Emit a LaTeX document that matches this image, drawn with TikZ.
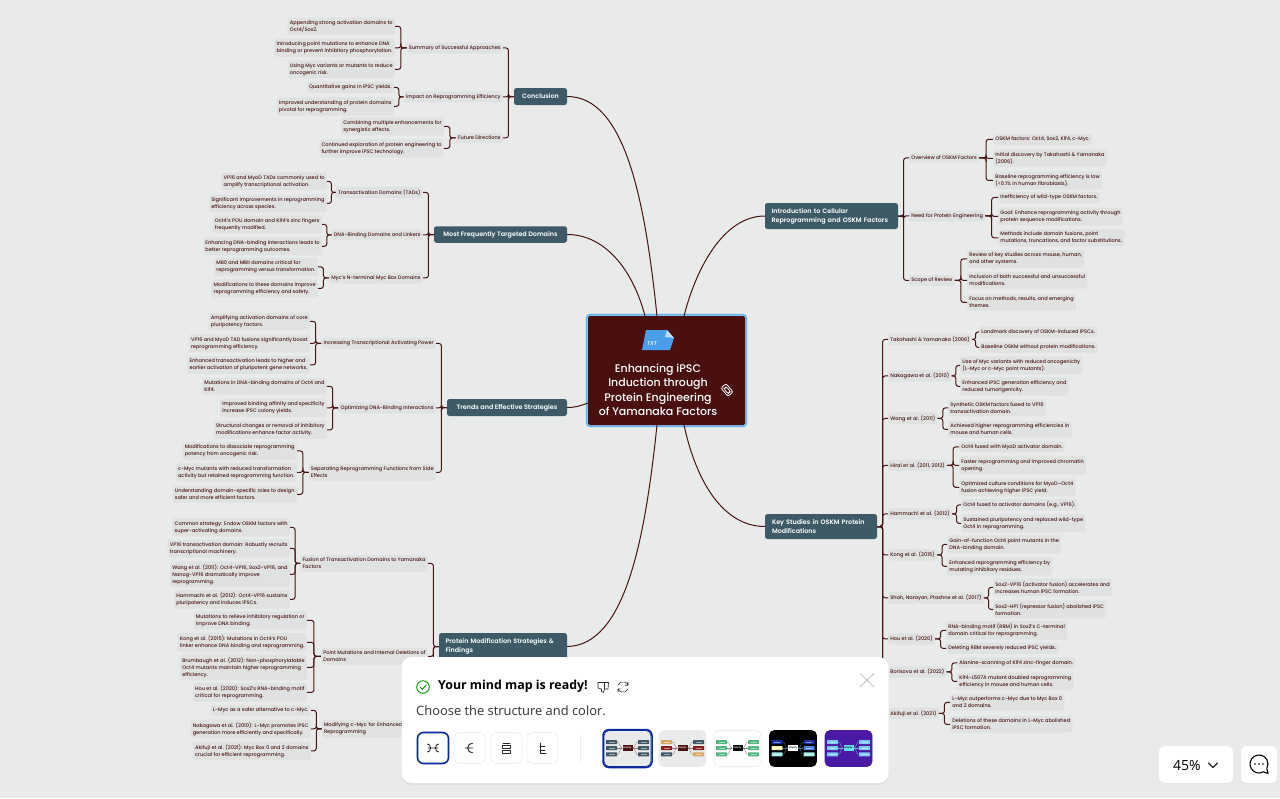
\documentclass[tikz,border=0pt]{standalone}
\usepackage{fontspec}
\setmainfont{Poppins Medium}
\newfontfamily\uifont{Open Sans}
\newfontfamily\topicfont{Poppins SemiBold}
\usetikzlibrary{calc}
\usetikzlibrary{shadows}

\definecolor{pagebg}{HTML}{E9EBEA}
\definecolor{leafgray}{HTML}{E0E2E1}
\definecolor{inkred}{HTML}{471414}
\definecolor{slateteal}{HTML}{3D5A66}
\definecolor{rootred}{HTML}{4A1010}
\definecolor{rootblue}{HTML}{5CB3F2}
\definecolor{iconblue}{HTML}{4B9EEA}
\definecolor{pickblue}{HTML}{0B2A9E}
\definecolor{softline}{HTML}{EEEEEE}
\definecolor{mtan}{HTML}{D9A860}
\definecolor{mred}{HTML}{8A1F1F}
\definecolor{mgreen}{HTML}{55B57E}
\definecolor{mnavy}{HTML}{1C2F9E}
\definecolor{mcream}{HTML}{FBF3B4}
\definecolor{mice}{HTML}{A5F0E6}
\definecolor{mblue}{HTML}{4F7FE8}
\definecolor{mviolet}{HTML}{4A1AA5}
\definecolor{msky}{HTML}{7EC8F5}
\definecolor{mcyan}{HTML}{66E0F5}

\tikzset{
    leaf/.style={fill=leafgray, rounded corners=2.5pt, text=inkred, align=left, yshift=-.4pt, inner xsep=2.2pt, inner ysep=2.8pt, font=\fontsize{5.02}{7}\selectfont},
    leafL/.style={leaf, anchor=east},
    leafR/.style={leaf, anchor=west},
    topic/.style={fill=slateteal, rounded corners=2.5pt, text=white, align=left, inner xsep=0pt, inner ysep=0pt, font=\topicfont\fontsize{6.4}{8.8}\selectfont},
    conn/.style={draw=inkred, line width=1pt, rounded corners=2.5pt},
    rootconn/.style={draw=inkred, line width=1pt},
    uibox/.style={fill=white, rounded corners=6pt, draw=softline, line width=.7pt},
    minibox/.style={minimum width=11pt, minimum height=4pt, inner sep=0pt, rounded corners=.5pt},
    minicore/.style={minimum width=10pt, minimum height=6pt, inner sep=0pt, font=\fontsize{2.4}{3}\selectfont},
    uiline/.style={draw=black!85, line width=.9pt, line cap=round, line join=round}
}

% left hand and right hand bracket from a parent to its children
\newcommand{\branchL}[2]{\foreach \c in {#2} \draw[conn] (#1.west) -| ($(#1.west)!.5!(\c.east)$) |- (\c.east);}
\newcommand{\branchR}[2]{\foreach \c in {#2} \draw[conn] (#1.east) -| ($(#1.east)!.5!(\c.west)$) |- (\c.west);}

% small colour preview: name, x, background, frame, core fill, core text, line, boxes
\newcommand{\preview}[8]{
    \node[minimum width=47pt, minimum height=36pt, rounded corners=5pt, inner sep=0pt, fill=#3, draw=#4, line width=.8pt] (#1) at (#2,748.5) {};
    \node[minicore, fill=#5, text=#6] (#1core) at (#2,748) {Mapify};
    \foreach \n/\dx/\dy/\col/\side/\port in {#8} {
        \node[minibox, fill=\col] (#1\n) at (#2+\dx,748+\dy) {};
        \draw[draw=#7, line width=.35pt] (#1core.\side) to[out=\ifnum\dx<0 180\else 0\fi, in=\ifnum\dx<0 0\else 180\fi] (#1\n.\port);
        \draw[draw=white, opacity=.5, line width=.35pt] ($(#1\n.center)+(-3,0)$) -- ($(#1\n.center)+(3,0)$);
    }
}

\begin{document}
\begin{tikzpicture}[x=1pt,y=-1pt]
        \useasboundingbox (0,0) rectangle (1280,798);
        \fill[pagebg] (0,0) rectangle (1280,798);

        % centre
        \node[minimum width=159.5pt, minimum height=111.5pt, rounded corners=3pt, draw=rootblue, line width=1.6pt] (rootframe) at (666.5,370.5) {};
        \node[minimum width=157pt, minimum height=109pt, rounded corners=2pt, fill=rootred] (root) at (666.5,370.5) {};
        \node[text=white, align=center, font=\fontsize{11}{14.5}\selectfont] (roottitle) at (658,390) {Enhancing iPSC\\Induction through\\Protein Engineering\\of Yamanaka Factors};
        \coordinate (portA) at (684,316);
        \coordinate (portB) at (657,316);
        \coordinate (portC) at (645,316);
        \coordinate (portD) at (588,403);
        \coordinate (portE) at (657,425);
        \coordinate (portF) at (684,425);
        \fill[iconblue] (646,330) -- (667,330) -- (674,338) -- (670,350) -- (642,350) -- cycle;
        \fill[rootblue!45!white] (667,330) -- (674,338) -- (665,337) -- cycle;
        \node[text=white, inner sep=0pt, font=\fontsize{5.4}{6}\selectfont\itshape] (txtmark) at (652,344) {TXT};
        \draw[white, line width=.8pt, rounded corners=2pt, rotate around={40:(727,390)}] (723.6,384.5) rectangle (730.4,395.5) (725.4,387) rectangle (728.6,393.5);

        % main topics
        \node[topic, minimum width=53pt, minimum height=17pt, align=center] (concl) at (540.5,96.5) {Conclusion};
        \node[topic, minimum width=133pt, minimum height=16.5pt, align=center] (freq) at (500.5,234.5) {Most Frequently Targeted Domains};
        \node[topic, minimum width=120pt, minimum height=17pt, align=center] (trend) at (507,407.5) {Trends and Effective Strategies};
        \node[topic, text width=115pt, minimum height=27pt, inner xsep=6.5pt] (prot) at (503,646.5) {Protein Modification Strategies \&\\Findings};
        \node[topic, text width=120pt, minimum height=26pt, inner xsep=6.5pt] (intro) at (831.5,216) {Introduction to Cellular\\Reprogramming and OSKM Factors};
        \node[topic, text width=98pt, minimum height=25pt, inner xsep=7pt] (key) at (821,526.5) {Key Studies in OSKM Protein\\Modifications};

        \draw[rootconn] (portA) .. controls (697,265) and (725,216) .. (intro.west);
        \draw[rootconn] (portB) .. controls (645,200) and (625,96.5) .. (concl.east);
        \draw[rootconn] (portC) .. controls (633,270) and (605,234.5) .. (freq.east);
        \draw[rootconn] (portD) .. controls (580,406) and (575,407.5) .. (trend.east);
        \draw[rootconn] (portE) .. controls (645,540) and (625,645.5) .. (prot.east);
        \draw[rootconn] (portF) .. controls (697,485) and (725,526.5) .. (key.west);

        % conclusion
        \node[leafL] (conA) at (503,47.5) {Summary of Successful Approaches};
        \node[leafL] (conB) at (503,96.5) {Impact on Reprogramming Efficiency};
        \node[leafL] (conC) at (503,137.5) {Future Directions};
        \node[leafL] (conA1) at (395,26) {Appending strong activation domains to\\Oct4/Sox2.};
        \node[leafL] (conA2) at (395,47.5) {Introducing point mutations to enhance DNA\\binding or prevent inhibitory phosphorylation.};
        \node[leafL] (conA3) at (395,69) {Using Myc variants or mutants to reduce\\oncogenic risk.};
        \node[leafL] (conB1) at (394,87) {Quantitative gains in iPSC yields.};
        \node[leafL] (conB2) at (394,106) {Improved understanding of protein domains\\pivotal for reprogramming.};
        \node[leafL] (conC1) at (444,126) {Combining multiple enhancements for\\synergistic effects.};
        \node[leafL] (conC2) at (444,148) {Continued exploration of protein engineering to\\further improve iPSC technology.};
        \branchL{concl}{conA,conB,conC}
        \branchL{conA}{conA1,conA2,conA3}
        \branchL{conB}{conB1,conB2}
        \branchL{conC}{conC1,conC2}

        % most frequently targeted domains
        \node[leafL] (frqA) at (423,192) {Transactivation Domains (TADs)};
        \node[leafL] (frqB) at (423,234.5) {DNA-Binding Domains and Linkers};
        \node[leafL] (frqC) at (423,277.5) {Myc's N-terminal Myc Box Domains};
        \node[leafL] (frqA1) at (327,181) {VP16 and MyoD TADs commonly used to\\amplify transcriptional activation.};
        \node[leafL] (frqA2) at (327,203) {Significant improvements in reprogramming\\efficiency across species.};
        \node[leafL] (frqB1) at (322,224) {Oct4's POU domain and Klf4's zinc fingers\\frequently modified.};
        \node[leafL] (frqB2) at (322,246) {Enhancing DNA-binding interactions leads to\\better reprogramming outcomes.};
        \node[leafL] (frqC1) at (318,266.5) {MB0 and MBII domains critical for\\reprogramming versus transformation.};
        \node[leafL] (frqC2) at (318,288) {Modifications to these domains improve\\reprogramming efficiency and safety.};
        \branchL{freq}{frqA,frqB,frqC}
        \branchL{frqA}{frqA1,frqA2}
        \branchL{frqB}{frqB1,frqB2}
        \branchL{frqC}{frqC1,frqC2}

        % trends
        \node[leafL] (trnA) at (436,343) {Increasing Transcriptional Activating Power};
        \node[leafL] (trnB) at (436,407.5) {Optimizing DNA-Binding Interactions};
        \node[leafL] (trnC) at (436,472) {Separating Reprogramming Functions from Side\\Effects};
        \node[leafL] (trnA1) at (310,321) {Amplifying activation domains of core\\pluripotency factors.};
        \node[leafL] (trnA2) at (310,343) {VP16 and MyoD TAD fusions significantly boost\\reprogramming efficiency.};
        \node[leafL] (trnA3) at (310,364.5) {Enhanced transactivation leads to higher and\\earlier activation of pluripotent gene networks.};
        \node[leafL] (trnB1) at (327,386) {Mutations in DNA-binding domains of Oct4 and\\Klf4.};
        \node[leafL] (trnB2) at (327,407.5) {Improved binding affinity and specificity\\increase iPSC colony yields.};
        \node[leafL] (trnB3) at (327,429.5) {Structural changes or removal of inhibitory\\modifications enhance factor activity.};
        \node[leafL] (trnC1) at (297,450.5) {Modifications to dissociate reprogramming\\potency from oncogenic risk.};
        \node[leafL] (trnC2) at (297,472) {c-Myc mutants with reduced transformation\\activity but retained reprogramming function.};
        \node[leafL] (trnC3) at (297,494) {Understanding domain-specific roles to design\\safer and more efficient factors.};
        \branchL{trend}{trnA,trnB,trnC}
        \branchL{trnA}{trnA1,trnA2,trnA3}
        \branchL{trnB}{trnB1,trnB2,trnB3}
        \branchL{trnC}{trnC1,trnC2,trnC3}

        % protein modification
        \node[leafL] (prtA) at (428,563) {Fusion of Transactivation Domains to Yamanaka\\Factors};
        \node[leafL] (prtB) at (428,656) {Point Mutations and Internal Deletions of\\Domains};
        \node[leafL, text width=101.6pt] (prtC) at (428,728.5) {Modifying c-Myc for Enhanced\\Reprogramming};
        \node[leafL] (prtA1) at (290,527) {Common strategy: Endow OSKM factors with\\super-activating domains.};
        \node[leafL] (prtA2) at (290,548) {VP16 transactivation domain: Robustly recruits\\transcriptional machinery.};
        \node[leafL] (prtA3) at (290,574) {Wang et al. (2011): Oct4-VP16, Sox2-VP16, and\\Nanog-VP16 dramatically improve\\reprogramming.};
        \node[leafL] (prtA4) at (290,599) {Hammachi et al. (2012): Oct4-VP16 sustains\\pluripotency and induces iPSCs.};
        \node[leafL] (prtB1) at (307,620) {Mutations to relieve inhibitory regulation or\\improve DNA binding.};
        \node[leafL] (prtB2) at (307,642) {Kong et al. (2015): Mutations in Oct4's POU\\linker enhance DNA binding and reprogramming.};
        \node[leafL] (prtB3) at (307,667) {Brumbaugh et al. (2012): Non-phosphorylatable\\Oct4 mutants maintain higher reprogramming\\efficiency.};
        \node[leafL] (prtB4) at (307,692) {Hou et al. (2020): Sox2's RNA-binding motif\\critical for reprogramming.};
        \node[leafL] (prtC1) at (311,710) {L-Myc as a safer alternative to c-Myc.};
        \node[leafL] (prtC2) at (311,728.5) {Nakagawa et al. (2010): L-Myc promotes iPSC\\generation more efficiently and specifically.};
        \node[leafL] (prtC3) at (311,750.5) {Akifuji et al. (2021): Myc Box 0 and 2 domains\\crucial for efficient reprogramming.};
        \branchL{prot}{prtA,prtB,prtC}
        \branchL{prtA}{prtA1,prtA2,prtA3,prtA4}
        \branchL{prtB}{prtB1,prtB2,prtB3,prtB4}
        \branchL{prtC}{prtC1,prtC2,prtC3}

        % introduction
        \node[leafR] (intA) at (909,157.5) {Overview of OSKM Factors};
        \node[leafR] (intB) at (909,215.5) {Need for Protein Engineering};
        \node[leafR] (intC) at (909,280) {Scope of Review};
        \node[leafR] (intA1) at (993,139) {OSKM factors: Oct4, Sox2, Klf4, c-Myc.};
        \node[leafR] (intA2) at (993,158) {Initial discovery by Takahashi \& Yamanaka\\(2006).};
        \node[leafR] (intA3) at (993,180) {Baseline reprogramming efficiency is low\\(<0.1\% in human fibroblasts).};
        \node[leafR] (intB1) at (998,197) {Inefficiency of wild-type OSKM factors.};
        \node[leafR] (intB2) at (998,216) {Goal: Enhance reprogramming activity through\\protein sequence modifications.};
        \node[leafR] (intB3) at (998,237.5) {Methods include domain fusions, point\\mutations, truncations, and factor substitutions.};
        \node[leafR] (intC1) at (967,258.5) {Review of key studies across mouse, human,\\and other systems.};
        \node[leafR] (intC2) at (967,280) {Inclusion of both successful and unsuccessful\\modifications.};
        \node[leafR] (intC3) at (967,302) {Focus on methods, results, and emerging\\themes.};
        \branchR{intro}{intA,intB,intC}
        \branchR{intA}{intA1,intA2,intA3}
        \branchR{intB}{intB1,intB2,intB3}
        \branchR{intC}{intC1,intC2,intC3}

        % key studies
        \node[leafR] (keyA) at (888,339) {Takahashi \& Yamanaka (2006)};
        \node[leafR] (keyB) at (888,375.5) {Nakagawa et al. (2010)};
        \node[leafR] (keyC) at (888,418) {Wang et al. (2011)};
        \node[leafR] (keyD) at (888,465) {Hirai et al. (2011, 2012)};
        \node[leafR] (keyE) at (888,513.5) {Hammachi et al. (2012)};
        \node[leafR] (keyF) at (888,554.5) {Kong et al. (2015)};
        \node[leafR] (keyG) at (888,597.5) {Shah, Narayan, Ptashne et al. (2017)};
        \node[leafR] (keyH) at (888,638.5) {Hou et al. (2020)};
        \node[leafR] (keyI) at (888,671.5) {Borisova et al. (2022)};
        \node[leafR] (keyJ) at (888,713) {Akifuji et al. (2021)};
        \node[leafR] (keyA1) at (979,331.5) {Landmark discovery of OSKM-induced iPSCs.};
        \node[leafR] (keyA2) at (979,347) {Baseline OSKM without protein modifications.};
        \node[leafR] (keyB1) at (960,365) {Use of Myc variants with reduced oncogenicity\\(L-Myc or c-Myc point mutants).};
        \node[leafR] (keyB2) at (960,386) {Enhanced iPSC generation efficiency and\\reduced tumorigenicity.};
        \node[leafR] (keyC1) at (948,407.5) {Synthetic OSKM factors fused to VP16\\transactivation domain.};
        \node[leafR] (keyC2) at (948,429) {Achieved higher reprogramming efficiencies in\\mouse and human cells.};
        \node[leafR] (keyD1) at (959,446.5) {Oct4 fused with MyoD activator domain.};
        \node[leafR] (keyD2) at (959,465) {Faster reprogramming and improved chromatin\\opening.};
        \node[leafR] (keyD3) at (959,487) {Optimized culture conditions for MyoD–Oct4\\fusion achieving higher iPSC yield.};
        \node[leafR] (keyE1) at (961,504.5) {Oct4 fused to activator domains (e.g., VP16).};
        \node[leafR] (keyE2) at (961,523) {Sustained pluripotency and replaced wild-type\\Oct4 in reprogramming.};
        \node[leafR] (keyF1) at (947,544) {Gain-of-function Oct4 point mutants in the\\DNA-binding domain.};
        \node[leafR] (keyF2) at (947,566) {Enhanced reprogramming efficiency by\\mutating inhibitory residues.};
        \node[leafR] (keyG1) at (993,587) {Sox2-VP16 (activator fusion) accelerates and\\increases human iPSC formation.};
        \node[leafR] (keyG2) at (993,609) {Sox2-HP1 (repressor fusion) abolished iPSC\\formation.};
        \node[leafR] (keyH1) at (946,630) {RNA-binding motif (RBM) in Sox2's C-terminal\\domain critical for reprogramming.};
        \node[leafR] (keyH2) at (946,648) {Deleting RBM severely reduced iPSC yields.};
        \node[leafR] (keyI1) at (957,662.5) {Alanine-scanning of Klf4 zinc-finger domain.};
        \node[leafR] (keyI2) at (957,681) {Klf4-L507A mutant doubled reprogramming\\efficiency in mouse and human cells.};
        \node[leafR] (keyJ1) at (950,702) {L-Myc outperforms c-Myc due to Myc Box 0\\and 2 domains.};
        \node[leafR] (keyJ2) at (950,724) {Deletions of these domains in L-Myc abolished\\iPSC formation.};
        \branchR{key}{keyA,keyB,keyC,keyD,keyE,keyF,keyG,keyH,keyI,keyJ}
        \branchR{keyA}{keyA1,keyA2}
        \branchR{keyB}{keyB1,keyB2}
        \branchR{keyC}{keyC1,keyC2}
        \branchR{keyD}{keyD1,keyD2,keyD3}
        \branchR{keyE}{keyE1,keyE2}
        \branchR{keyF}{keyF1,keyF2}
        \branchR{keyG}{keyG1,keyG2}
        \branchR{keyH}{keyH1,keyH2}
        \branchR{keyI}{keyI1,keyI2}
        \branchR{keyJ}{keyJ1,keyJ2}

        % popup
        \node[minimum width=487pt, minimum height=126pt, rounded corners=10pt, fill=white, drop shadow={shadow xshift=0pt, shadow yshift=-2pt, opacity=.1}] (popup) at (645,720) {};
        \draw[draw=green!60!black, line width=.9pt] (423,687) circle (6.3);
        \draw[draw=green!60!black, line width=.9pt, line cap=round] (420,687) -- (422.3,689.3) -- (426.3,685);
        \node[anchor=west, inner sep=0pt, font=\uifont\fontsize{12.4}{15}\selectfont\bfseries] (title) at (438,686.5) {Your mind map is ready!};
        \node[anchor=west, inner sep=0pt, text=black!80, font=\uifont\fontsize{12.9}{15}\selectfont] (subtitle) at (416,711) {Choose the structure and color.};
        \draw[uiline, line width=.6pt] (598,682.5) -- (608.5,682.5) -- (608,689) -- (604.5,689) -- (603.5,692.5) -- (601.5,691.5) -- (601.5,689) -- (598,688) -- cycle (604.5,682.5) -- (604.5,689);
        \draw[uiline, line width=.6pt] (618,685.2) arc (200:340:5.3) (628,688.8) arc (20:160:5.3) (628,682) -- (628,685.2) -- (625,685.2) (618,692) -- (618,688.8) -- (621,688.8);
        \draw[draw=black!25, line width=.8pt] (860,673.5) -- (874,687) (874,673.5) -- (860,687);

        % structure buttons
        \node[uibox, minimum width=31pt, minimum height=31pt, draw=pickblue, line width=1.6pt] (shapeA) at (433,748) {};
        \node[uibox, minimum width=31pt, minimum height=31pt] (shapeB) at (469.5,748) {};
        \node[uibox, minimum width=31pt, minimum height=31pt] (shapeC) at (506.5,748) {};
        \node[uibox, minimum width=31pt, minimum height=31pt] (shapeD) at (542.5,748) {};
        \draw[uiline] (427.5,744) .. controls (431.5,744) and (431.5,752) .. (427.5,752) (438.5,744) .. controls (434.5,744) and (434.5,752) .. (438.5,752) (428,748) -- (438,748);
        \draw[uiline] (472.5,743.5) .. controls (466,743.5) and (466,752.5) .. (472.5,752.5) (465,748) -- (473,748);
        \draw[uiline] (503,743) -- (510,743);
        \draw[uiline] (502.5,745.5) rectangle (510.5,748.5) (502.5,750.5) rectangle (510.5,753.5);
        \draw[uiline] (540,743) -- (540,753.5) -- (546,753.5) (540,746.5) -- (545,746.5) (540,750) -- (545,750);
        \draw[draw=softline, line width=.8pt] (580,735) -- (580,762);

        % colour previews
        \preview{pvA}{627.5}{pagebg}{pickblue}{rootred}{white}{inkred!60}{lt/-16/-6/slateteal/west/east,lm/-16/0/slateteal/west/east,lb/-16/6.3/slateteal/west/east,rt/16/-6/slateteal/east/west,rm/16/0/slateteal/east/west,rb/16/6.3/slateteal/east/west}
        \preview{pvB}{682.5}{pagebg}{pagebg}{rootred}{white}{inkred!60}{lt/-16/-6/mtan/west/east,lm/-16/0/mred/west/east,lb/-16/6.3/slateteal/west/east,rt/16/-6/slateteal/east/west,rm/16/0/mred/east/west,rb/16/6.3/mtan/east/west}
        \preview{pvC}{737.5}{white}{softline}{black}{white}{black!50}{lt/-16/-6/mgreen/west/east,lm/-16/0/mgreen/west/east,lb/-16/6.3/mgreen/west/east,rt/16/-6/mgreen/east/west,rm/16/0/mgreen/east/west,rb/16/6.3/mgreen/east/west}
        \preview{pvD}{793}{black}{black}{white}{black}{cyan!50!black}{lt/-16/-6/mnavy/west/east,lm/-16/0/mcream/west/east,lb/-16/6.3/mice/west/east,rt/16/-6/mnavy/east/west,rm/16/0/mblue/east/west,rb/16/6.3/mice/east/west}
        \preview{pvE}{848.5}{mviolet}{mviolet}{mcyan}{black}{msky!60!gray}{lt/-16/-6/msky/west/east,lm/-16/0/msky/west/east,lb/-16/6.3/msky/west/east,rt/16/-6/msky/east/west,rm/16/0/msky/east/west,rb/16/6.3/msky/east/west}
        \node[minimum width=49pt, minimum height=38pt, rounded corners=6pt, draw=pickblue, line width=1.5pt] (pvAframe) at (627.5,748.5) {};

        % bottom right
        \node[minimum width=74pt, minimum height=37pt, rounded corners=6pt, fill=white, drop shadow={shadow xshift=0pt, shadow yshift=-1pt, opacity=.06}] (zoombox) at (1196,764.5) {};
        \node[minimum width=36pt, minimum height=37pt, rounded corners=6pt, fill=white, drop shadow={shadow xshift=0pt, shadow yshift=-1pt, opacity=.06}] (chatbox) at (1259,764.5) {};
        \node[anchor=west, inner sep=0pt, font=\uifont\fontsize{14}{16}\selectfont] (zoomtext) at (1173,765) {45\%};
        \draw[uiline, line width=1.2pt] (1208.5,763) -- (1213,767.5) -- (1217.5,763);
        \draw[black, line width=1.1pt, line join=round] (1263.5,771.8) arc (60:390:9) -- (1268,773.5) -- cycle;
        \fill[black] (1255,764) circle (.9) (1259,764) circle (.9) (1263,764) circle (.9);
\end{tikzpicture}
\end{document}
